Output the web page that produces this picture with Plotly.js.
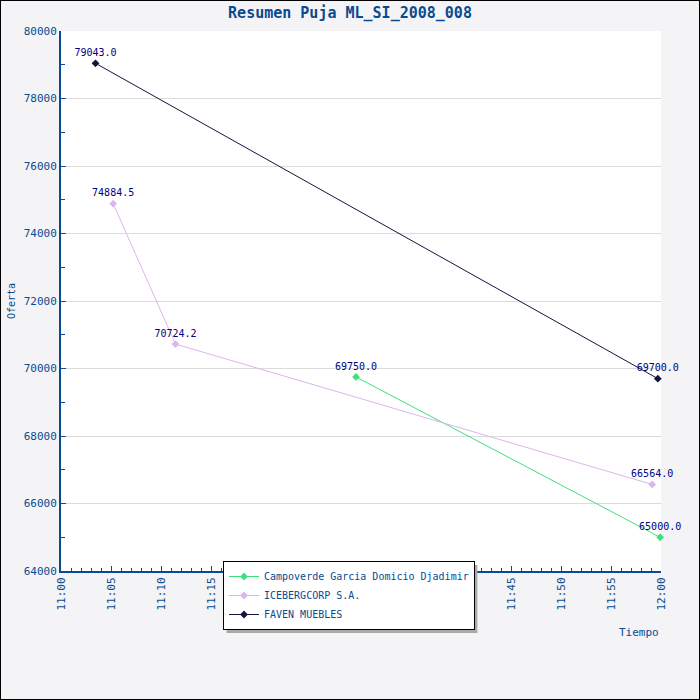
<!DOCTYPE html>
<html>
<head>
<meta charset="utf-8">
<script src="https://cdn.plot.ly/plotly-3.0.1.min.js"></script>
<style>
  body { margin: 0; }
  #chart { width: 698px; height: 698px; border: 1px solid #000; }
</style>
</head>
<body>
<div id="chart"></div>
<script>
// bid summary, one series per bidder
var seriesNames = ['Campoverde Garcia Domicio Djadimir', 'ICEBERGCORP S.A.', 'FAVEN MUEBLES'];
var seriesColors = ['#3ee07e', '#dbb6ec', '#14143c'];

var campoverdeTimes = ['2008-01-01 11:29:30', '2008-01-01 11:59:55'];
var campoverdeBids = [69750.0, 65000.0];

var icebergTimes = ['2008-01-01 11:05:13', '2008-01-01 11:11:27', '2008-01-01 11:59:07'];
var icebergBids = [74884.5, 70724.2, 66564.0];

var favenTimes = ['2008-01-01 11:03:27', '2008-01-01 11:59:41'];
var favenBids = [79043.0, 69700.0];

var allTimes = [campoverdeTimes, icebergTimes, favenTimes];
var allBids = [campoverdeBids, icebergBids, favenBids];

var font = 'DejaVu Sans Mono, monospace';
var blue = '#0a4a90';

var data = [];
for (var i = 0; i < seriesNames.length; i++) {
    data.push({
        x: allTimes[i],
        y: allBids[i],
        name: seriesNames[i],
        type: 'scatter',
        mode: 'lines+markers+text',
        text: allBids[i].map(function (v) { return v.toFixed(1); }),
        textposition: 'top center',
        textfont: {family: font, size: 10, color: '#000080'},
        line: {color: seriesColors[i], width: 1},
        marker: {color: seriesColors[i], symbol: 'diamond', size: 6},
        cliponaxis: false
    });
}

var layout = {
    width: 698,
    height: 698,
    paper_bgcolor: '#f4f4f6',
    plot_bgcolor: '#ffffff',
    margin: {l: 60, r: 38, t: 30, b: 128},
    font: {family: font, size: 10, color: blue},
    title: {
        text: '<b>Resumen Puja ML_SI_2008_008</b>',
        font: {family: font, size: 15, color: blue},
        x: 0.5, y: 0.983, yanchor: 'middle'
    },
    showlegend: true,
    legend: {
        x: 0.27, y: 0.0185, xanchor: 'left', yanchor: 'top',
        bgcolor: '#ffffff', bordercolor: '#000000', borderwidth: 1,
        font: {family: font, size: 10, color: blue},
        tracegroupgap: 0, itemwidth: 30
    },
    xaxis: {
        type: 'date',
        range: ['2008-01-01 11:00:00', '2008-01-01 12:00:00'],
        dtick: 300000,
        tickformat: '%H:%M',
        tickangle: -90,
        ticks: 'inside', ticklen: 5, tickcolor: blue,
        minor: {dtick: 60000, ticks: 'inside', ticklen: 3, tickcolor: blue},
        showline: true, linecolor: blue, linewidth: 2,
        showgrid: false, zeroline: false,
        tickfont: {family: font, size: 11, color: blue}
    },
    yaxis: {
        range: [64000, 80000],
        dtick: 2000,
        tickformat: 'd',
        ticks: 'inside', ticklen: 5, tickcolor: blue,
        minor: {dtick: 1000, ticks: 'inside', ticklen: 4, tickcolor: blue, showgrid: false},
        showline: true, linecolor: blue, linewidth: 2,
        showgrid: true, gridcolor: '#dcdcdc',
        zeroline: false,
        tickfont: {family: font, size: 11, color: blue},
        title: {text: 'Oferta', font: {family: font, size: 10, color: blue}, standoff: 6}
    },
    annotations: [{
        text: 'Tiempo', xref: 'paper', yref: 'paper',
        x: 1, y: -0.113, xanchor: 'right', yanchor: 'middle',
        showarrow: false, font: {family: font, size: 11, color: blue}
    }],
    // drop shadow behind the legend box
    shapes: [{
        type: 'rect', xref: 'paper', yref: 'paper', layer: 'above',
        x0: 0.2758, x1: 0.694, y0: 0.0111, y1: -0.115,
        fillcolor: '#aaaaaa', line: {width: 0}
    }]
};

Plotly.newPlot(document.getElementById('chart'), data, layout, {displayModeBar: false});
</script>
</body>
</html>
